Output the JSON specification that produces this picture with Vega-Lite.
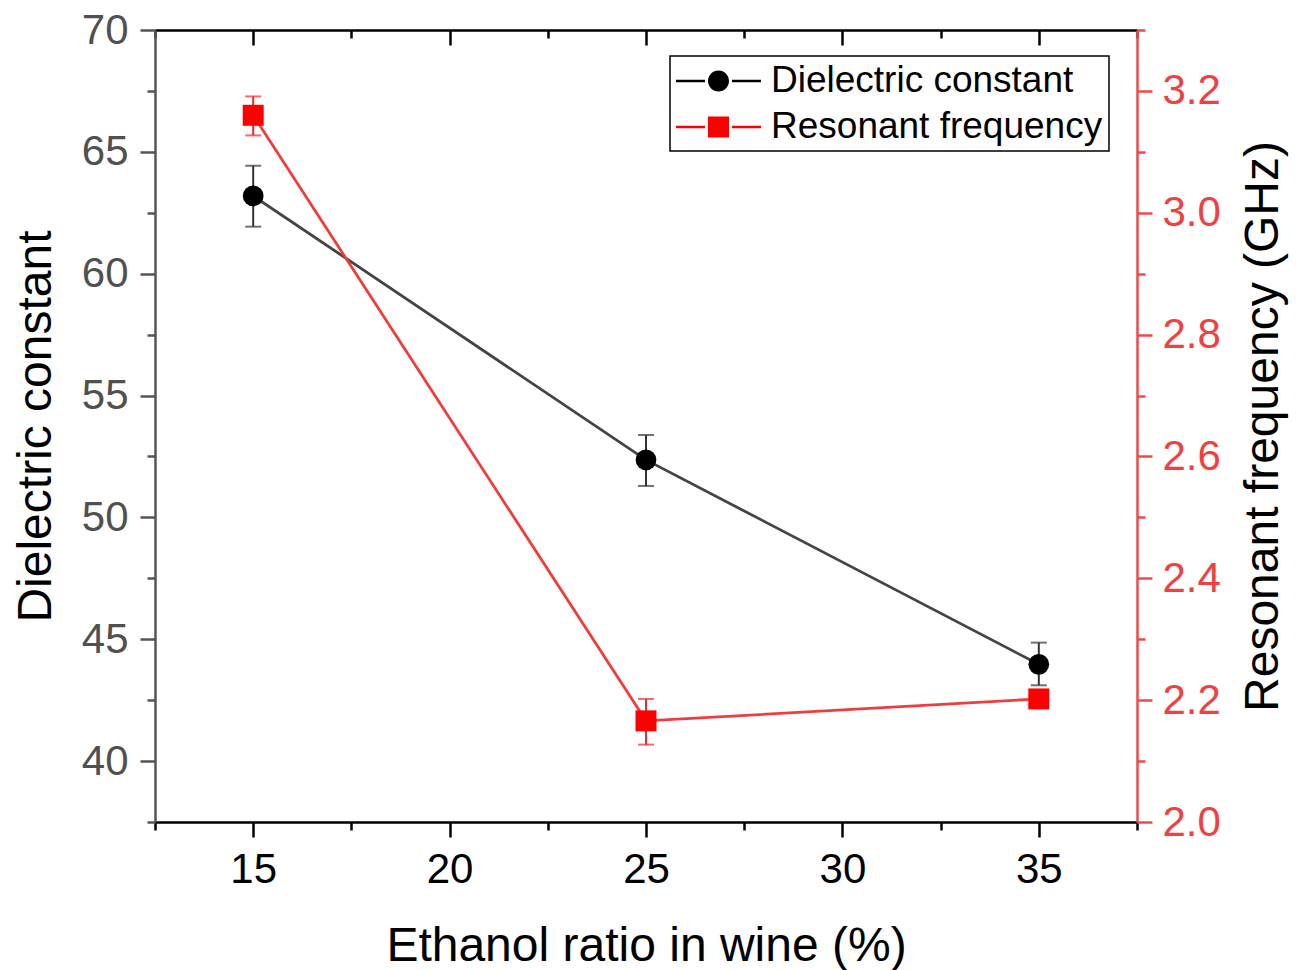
{
  "$schema": "https://vega.github.io/schema/vega-lite/v6.json",
  "width": 982,
  "height": 792,
  "autosize": {"type": "none"},
  "padding": {"left": 155, "top": 30, "right": 166, "bottom": 148},
  "background": "white",
  "config": {
    "view": {"stroke": null},
    "font": "Liberation Sans",
    "axis": {"grid": false, "labelFont": "Liberation Sans", "titleFont": "Liberation Sans", "titleFontWeight": "normal", "labelOverlap": false, "labelFlush": false, "labelBound": false, "tickWidth": 2.5, "domainWidth": 2.5}
  },
  "datasets": {
    "dc": [
      {"ratio": 15, "value": 63.19, "lo": 61.93, "hi": 64.43, "series": "Dielectric constant"},
      {"ratio": 25, "value": 52.36, "lo": 51.29, "hi": 53.38, "series": "Dielectric constant"},
      {"ratio": 35, "value": 43.97, "lo": 43.11, "hi": 44.86, "series": "Dielectric constant"}
    ],
    "rf": [
      {"ratio": 15, "value": 3.16, "lo": 3.127, "hi": 3.191, "series": "Resonant frequency"},
      {"ratio": 25, "value": 2.166, "lo": 2.127, "hi": 2.202, "series": "Resonant frequency"},
      {"ratio": 35, "value": 2.202, "lo": 2.19, "hi": 2.214, "series": "Resonant frequency"}
    ]
  },
  "layer": [
    {
      "data": {"name": "dc"},
      "resolve": {"axis": {"x": "independent", "y": "independent"}},
      "layer": [
        {
          "mark": {"type": "line", "color": "#444444", "strokeWidth": 2.8},
          "encoding": {
            "x": {
              "field": "ratio", "type": "quantitative",
              "scale": {"domain": [12.5, 37.5], "nice": false, "zero": false},
              "axis": {
                "orient": "bottom",
                "title": "Ethanol ratio in wine (%)",
                "values": [15, 20, 25, 30, 35],
                "format": "d",
                "tickSize": 15,
                "domainColor": "#000000", "tickColor": "#000000", "labelColor": "#000000", "titleColor": "#000000",
                "labelFontSize": 42, "titleFontSize": 48,
                "labelPadding": 12, "titlePadding": 32
              }
            },
            "y": {
              "field": "value", "type": "quantitative",
              "scale": {"domain": [37.5, 70], "nice": false, "zero": false},
              "axis": {
                "orient": "left",
                "title": "Dielectric constant",
                "values": [40, 45, 50, 55, 60, 65, 70],
                "format": "d",
                "tickSize": 15,
                "domainColor": "#555555", "tickColor": "#555555", "labelColor": "#505050", "titleColor": "#000000",
                "labelFontSize": 42, "titleFontSize": 48,
                "labelPadding": 12, "titlePadding": 21
              }
            }
          }
        },
        {
          "mark": {"type": "errorbar", "ticks": true, "size": 16, "thickness": 2, "color": "#333333"},
          "encoding": {
            "x": {
              "field": "ratio", "type": "quantitative",
              "scale": {"domain": [12.5, 37.5], "nice": false, "zero": false},
              "axis": {
                "orient": "bottom", "title": null, "labels": false, "domain": false,
                "values": [12.5, 17.5, 22.5, 27.5, 32.5, 37.5],
                "tickSize": 8, "tickColor": "#000000"
              }
            },
            "y": {
              "field": "lo", "type": "quantitative",
              "scale": {"domain": [37.5, 70], "nice": false, "zero": false},
              "axis": {
                "orient": "left", "title": null, "labels": false, "domain": false,
                "values": [37.5, 42.5, 47.5, 52.5, 57.5, 62.5, 67.5],
                "tickSize": 8, "tickColor": "#555555"
              }
            },
            "y2": {"field": "hi"}
          }
        },
        {
          "mark": {"type": "point", "shape": "circle", "filled": true, "size": 430, "opacity": 1},
          "encoding": {
            "x": {"field": "ratio", "type": "quantitative", "scale": {"domain": [12.5, 37.5], "nice": false, "zero": false}, "axis": null},
            "y": {"field": "value", "type": "quantitative", "scale": {"domain": [37.5, 70], "nice": false, "zero": false}, "axis": null},
            "color": {
              "field": "series", "type": "nominal",
              "scale": {"domain": ["Dielectric constant", "Resonant frequency"], "range": ["#000000", "#ff0000"]},
              "legend": {
                "orient": "none", "legendX": 515, "legendY": 26,
                "title": null,
                "labelFontSize": 37, "labelFont": "Liberation Sans", "labelColor": "#000000",
                "labelOffset": 57, "labelLimit": 0,
                "symbolSize": 1444, "symbolStrokeWidth": 0, "symbolOpacity": 1,
                "padding": 6, "rowPadding": 9,
                "strokeColor": "#000000",
                "encode": {
                  "legend": {"update": {"stroke": {"value": "#000000"}, "strokeWidth": {"value": 1.5}}},
                  "symbols": {"update": {
                    "shape": {"signal": "datum.value === 'Dielectric constant' ? 'M-1,-0.07H0.526V0.07H-1Z M1.947,-0.07H3.474V0.07H1.947Z M0.684,0A0.553,0.553 0 1,1 1.79,0A0.553,0.553 0 1,1 0.684,0Z' : 'M-1,-0.07H0.526V0.07H-1Z M1.947,-0.07H3.474V0.07H1.947Z M0.684,-0.553H1.79V0.553H0.684Z'"},
                    "size": {"value": 1444},
                    "opacity": {"value": 1}
                  }}
                }
              }
            }
          }
        }
      ]
    },
    {
      "data": {"name": "rf"},
      "resolve": {"axis": {"x": "independent", "y": "independent"}},
      "layer": [
        {
          "mark": {"type": "line", "color": "#f03c3c", "strokeWidth": 2.8},
          "encoding": {
            "x": {
              "field": "ratio", "type": "quantitative",
              "scale": {"domain": [12.5, 37.5], "nice": false, "zero": false},
              "axis": {
                "orient": "top", "title": null, "labels": false,
                "values": [15, 20, 25, 30, 35],
                "tickSize": -15,
                "domainColor": "#000000", "tickColor": "#000000"
              }
            },
            "y": {
              "field": "value", "type": "quantitative",
              "scale": {"domain": [2.0, 3.3], "nice": false, "zero": false},
              "axis": {
                "orient": "right",
                "title": "Resonant frequency (GHz)",
                "values": [2.0, 2.2, 2.4, 2.6, 2.8, 3.0, 3.2],
                "format": ".1f",
                "tickSize": 15,
                "domainColor": "#f04848", "tickColor": "#f04848", "labelColor": "#f04040", "titleColor": "#000000",
                "labelFontSize": 42, "titleFontSize": 48,
                "labelPadding": 10, "titlePadding": 19,
                "titleAngle": 270, "titleBaseline": "top"
              }
            }
          }
        },
        {
          "mark": {"type": "errorbar", "ticks": true, "size": 16, "thickness": 2, "color": "#ee2a2a"},
          "encoding": {
            "x": {
              "field": "ratio", "type": "quantitative",
              "scale": {"domain": [12.5, 37.5], "nice": false, "zero": false},
              "axis": {
                "orient": "top", "title": null, "labels": false, "domain": false,
                "values": [12.5, 17.5, 22.5, 27.5, 32.5, 37.5],
                "tickSize": -8, "tickColor": "#000000"
              }
            },
            "y": {
              "field": "lo", "type": "quantitative",
              "scale": {"domain": [2.0, 3.3], "nice": false, "zero": false},
              "axis": {
                "orient": "right", "title": null, "labels": false, "domain": false,
                "values": [2.1, 2.3, 2.5, 2.7, 2.9, 3.1, 3.3],
                "tickSize": 8, "tickColor": "#f04848"
              }
            },
            "y2": {"field": "hi"}
          }
        },
        {
          "mark": {"type": "point", "shape": "square", "filled": true, "size": 441, "opacity": 1},
          "encoding": {
            "x": {"field": "ratio", "type": "quantitative", "scale": {"domain": [12.5, 37.5], "nice": false, "zero": false}, "axis": null},
            "y": {"field": "value", "type": "quantitative", "scale": {"domain": [2.0, 3.3], "nice": false, "zero": false}, "axis": null},
            "color": {
              "field": "series", "type": "nominal",
              "scale": {"domain": ["Dielectric constant", "Resonant frequency"], "range": ["#000000", "#ff0000"]}
            }
          }
        }
      ]
    }
  ],
  "resolve": {"scale": {"y": "independent"}}
}
